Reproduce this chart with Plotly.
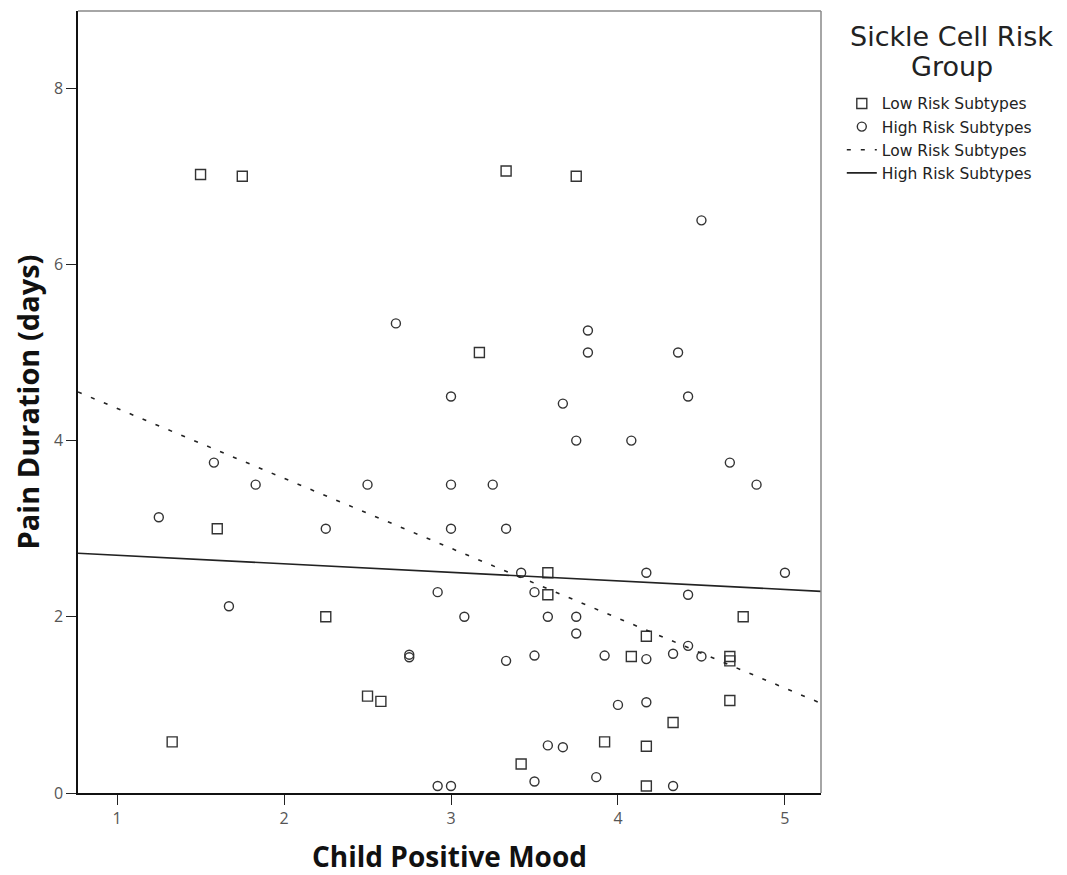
import plotly.graph_objects as go

# Low Risk Subtypes (squares)
low_x = [1.33, 1.50, 1.60, 1.75, 2.25, 2.50, 2.58, 3.17, 3.33, 3.42, 3.58, 3.58,
         3.75, 3.92, 4.08, 4.17, 4.17, 4.17, 4.33, 4.67, 4.67, 4.67, 4.75]
low_y = [0.58, 7.02, 3.00, 7.00, 2.00, 1.10, 1.04, 5.00, 7.06, 0.33, 2.50, 2.25,
         7.00, 0.58, 1.55, 1.78, 0.53, 0.08, 0.80, 1.55, 1.50, 1.05, 2.00]

# High Risk Subtypes (circles)
high_x = [1.25, 1.58, 1.67, 1.83, 2.25, 2.50, 2.67, 2.75, 2.75, 2.92, 2.92, 3.00,
          3.00, 3.00, 3.00, 3.08, 3.25, 3.33, 3.33, 3.42, 3.50, 3.50, 3.50, 3.58,
          3.58, 3.67, 3.67, 3.75, 3.75, 3.75, 3.82, 3.82, 3.87, 3.92, 4.00, 4.08,
          4.17, 4.17, 4.17, 4.33, 4.33, 4.36, 4.42, 4.42, 4.42, 4.50, 4.50, 4.67,
          4.83, 5.00]
high_y = [3.13, 3.75, 2.12, 3.50, 3.00, 3.50, 5.33, 1.57, 1.54, 2.28, 0.08, 0.08,
          4.50, 3.50, 3.00, 2.00, 3.50, 3.00, 1.50, 2.50, 2.28, 1.56, 0.13, 2.00,
          0.54, 0.52, 4.42, 4.00, 2.00, 1.81, 5.25, 5.00, 0.18, 1.56, 1.00, 4.00,
          2.50, 1.52, 1.03, 1.58, 0.08, 5.00, 4.50, 2.25, 1.67, 6.50, 1.55, 3.75,
          3.50, 2.50]

# Fit lines (intercept, slope)
low_fit = [5.16, -0.794]
high_fit = [2.795, -0.097]

x_range = [0.766, 5.216]
y_range = [0, 8.876]
x_ticks = [1, 2, 3, 4, 5]
y_ticks = [0, 2, 4, 6, 8]

legend_title_lines = ["Sickle Cell Risk", "Group"]

fig = go.Figure()
mk_col = "#333333"
fig.add_trace(go.Scatter(
    x=low_x, y=low_y, mode="markers", name="Low Risk Subtypes",
    marker=dict(symbol="square-open", size=10, color=mk_col, line=dict(width=1.4))))
fig.add_trace(go.Scatter(
    x=high_x, y=high_y, mode="markers", name="High Risk Subtypes",
    marker=dict(symbol="circle-open", size=9, color=mk_col, line=dict(width=1.4))))
fig.add_trace(go.Scatter(
    x=x_range, y=[low_fit[0] + low_fit[1] * v for v in x_range], mode="lines",
    name="Low Risk Subtypes", line=dict(color="#222222", width=1.6, dash="4px,10px")))
fig.add_trace(go.Scatter(
    x=x_range, y=[high_fit[0] + high_fit[1] * v for v in x_range], mode="lines",
    name="High Risk Subtypes", line=dict(color="#222222", width=1.6)))

axis_common = dict(showgrid=False, zeroline=False, showline=True, linecolor="#111111",
                   linewidth=1.5, mirror=False, ticks="outside", tickcolor="#222222",
                   ticklen=10, tickwidth=1.3,
                   tickfont=dict(family="Open Sans", size=16, color="#555555"))

title_font = dict(family="DejaVu Sans", size=27, color="#222222")
annotations = []
for line_text, ypos in zip(legend_title_lines, [0.967, 0.929]):
    annotations.append(dict(text=line_text, xref="paper", yref="paper", x=1.176, y=ypos,
                            xanchor="center", yanchor="middle", showarrow=False,
                            font=title_font))

fig.update_layout(
    width=1067, height=875,
    margin=dict(l=70, r=254, t=3, b=90),
    paper_bgcolor="white", plot_bgcolor="white",
    showlegend=True,
    legend=dict(
        x=1.028, y=0.903, xanchor="left", yanchor="top",
        font=dict(family="DejaVu Sans", size=15.5, color="#222222"),
        tracegroupgap=0, itemwidth=30, bgcolor="rgba(0,0,0,0)"),
    xaxis=dict(range=x_range, tickvals=x_ticks,
               title=dict(text="<b>Child Positive Mood</b>", standoff=19,
                          font=dict(family="Open Sans", size=28, color="#111111")),
               **axis_common),
    yaxis=dict(range=y_range, tickvals=y_ticks,
               title=dict(text="<b>Pain Duration (days)</b>", standoff=14,
                          font=dict(family="Open Sans", size=29, color="#111111")),
               **axis_common),
    annotations=annotations,
    shapes=[
        dict(type="line", xref="paper", yref="paper", x0=0, x1=1, y0=1, y1=1,
             line=dict(color="#888888", width=1.5)),
        dict(type="line", xref="paper", yref="paper", x0=1, x1=1, y0=0, y1=1,
             line=dict(color="#888888", width=1.5)),
    ],
)

fig.write_html("out.html")
